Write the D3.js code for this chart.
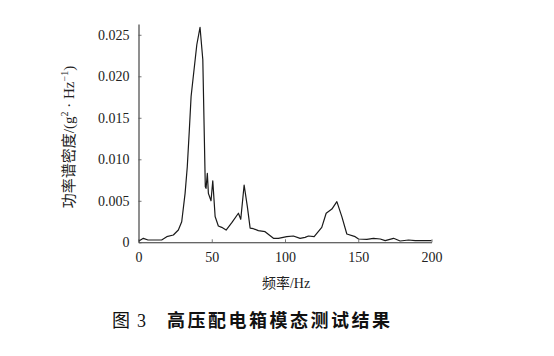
<!DOCTYPE html>
<html>
<head>
<meta charset="utf-8">
<script src="https://cdn.jsdelivr.net/npm/d3@7"></script>
<style>
  html, body { margin: 0; padding: 0; background: #fff; }
  svg { display: block; }
</style>
</head>
<body>
<svg id="chart" width="554" height="356"></svg>
<script>
// Frequency (Hz)
const freq = [0.3, 3.3, 6.5, 15.8, 19.3, 23.8, 27.2, 29.5, 31.8, 33.3, 34.7, 35.9, 37.4, 39.8, 42.0,
  43.9, 44.7, 45.6, 46.1, 47.0, 47.7, 49.5, 50.7, 52.3, 54.5, 56.8, 59.8, 63.7, 68.2, 69.8,
  72.1, 74.3, 76.2, 78.4, 81.8, 86.4, 92.1, 95.5, 101.2, 105.7, 110.3, 113.7, 116.0, 119.9,
  125.1, 128.1, 132.0, 135.4, 138.8, 142.2, 147.9, 150.2, 155.9, 160.4, 165.0, 168.4, 174.1,
  178.6, 184.3, 188.9, 200.0];
// Power spectral density (g^2/Hz)
const psd = [0.00016, 0.00048, 0.00028, 0.00028, 0.00068, 0.00088, 0.00148, 0.00248, 0.0059, 0.0091,
  0.01354, 0.01756, 0.01997, 0.0238, 0.0259,
  0.0220, 0.01475, 0.0067, 0.0065, 0.0083, 0.0059, 0.0050, 0.0074, 0.0031, 0.00197, 0.0018,
  0.00148, 0.00236, 0.0035, 0.00277,
  0.0069, 0.0043, 0.0017, 0.00164, 0.0014, 0.00128, 0.00048, 0.00048, 0.00068, 0.00076,
  0.00048, 0.0006, 0.00076, 0.00068,
  0.0018, 0.0035, 0.0040, 0.0049, 0.0031, 0.0010, 0.00068, 0.0004, 0.00036, 0.00048,
  0.0004, 0.0002, 0.00048, 0.00016, 0.00028, 0.0002, 0.0002];
const xTicks = [0, 50, 100, 150, 200];
const yTicks = [0, 0.005, 0.010, 0.015, 0.020, 0.025];
const yTickLabels = ["0", "0.005", "0.010", "0.015", "0.020", "0.025"];

const svg = d3.select("#chart");
const x = d3.scaleLinear().domain([0, 200]).range([138.5, 431.5]);
const y = d3.scaleLinear().domain([0, 0.0263]).range([242.3, 24]);

const serif = "'Liberation Serif', 'DejaVu Serif', serif";
const cjk = "'Noto Sans CJK SC', sans-serif";

// line
const line = d3.line().x((d, i) => x(freq[i])).y(d => y(d));
svg.append("path")
  .datum(psd)
  .attr("d", line)
  .attr("fill", "none")
  .attr("stroke", "#1a1a1a")
  .attr("stroke-width", 1.2)
  .attr("stroke-linejoin", "round");

// x axis
const gx = svg.append("g").attr("transform", `translate(0,${y(0)})`)
  .call(d3.axisBottom(x).tickValues(xTicks).tickSizeInner(-3).tickSizeOuter(0).tickPadding(10));
// y axis
const gy = svg.append("g").attr("transform", `translate(${x(0)},0)`)
  .call(d3.axisLeft(y).tickValues(yTicks).tickFormat((d, i) => yTickLabels[i]).tickSizeInner(-3).tickSizeOuter(0).tickPadding(9));

[gx, gy].forEach(g => {
  g.select(".domain").attr("stroke", "#333").attr("stroke-width", 1.1);
  g.selectAll(".tick line").attr("stroke", "#555").attr("stroke-width", 0.8);
  g.selectAll(".tick text").attr("font-family", serif).attr("font-size", 14).attr("fill", "#222");
});

// x label
const xl = svg.append("text")
  .attr("x", 286).attr("y", 288)
  .attr("text-anchor", "middle")
  .attr("font-size", 14)
  .attr("fill", "#222");
xl.append("tspan").attr("font-family", cjk).text("频率");
xl.append("tspan").attr("font-family", serif).text("/Hz");

// y label
const yl = svg.append("text")
  .attr("transform", "translate(74,137) rotate(-90)")
  .attr("text-anchor", "middle")
  .attr("font-size", 15)
  .attr("fill", "#222");
yl.append("tspan").attr("font-family", cjk).text("功率谱密度");
yl.append("tspan").attr("font-family", serif).text("/(g");
yl.append("tspan").attr("font-family", serif).attr("font-size", 10).attr("dy", -6).text("2");
yl.append("tspan").attr("font-family", serif).attr("dy", 6).text(" · Hz");
yl.append("tspan").attr("font-family", serif).attr("font-size", 10).attr("dy", -6).text("−1");
yl.append("tspan").attr("font-family", serif).attr("dy", 6).text(")");

// caption
svg.append("text")
  .attr("x", 112).attr("y", 327)
  .attr("font-family", cjk)
  .attr("font-size", 18)
  .attr("fill", "#111")
  .text("图");
svg.append("text")
  .attr("x", 137).attr("y", 327)
  .attr("font-family", serif)
  .attr("font-size", 18)
  .attr("fill", "#111")
  .text("3");
svg.append("text")
  .attr("x", 167).attr("y", 327)
  .attr("font-family", cjk)
  .attr("font-size", 18)
  .attr("font-weight", 700)
  .attr("letter-spacing", 2.5)
  .attr("fill", "#111")
  .text("高压配电箱模态测试结果");
</script>
</body>
</html>
